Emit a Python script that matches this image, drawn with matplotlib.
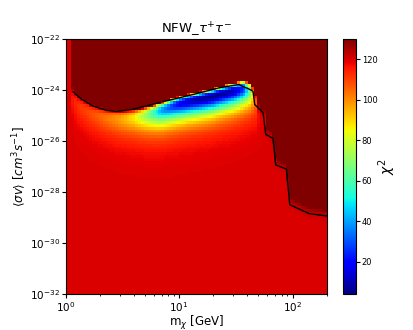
import numpy as np
import matplotlib
matplotlib.use("Agg")
import matplotlib.pyplot as plt

# best-fit cross section and minimum chi2 per mass
mass_knots = [1.0, 1.1, 1.15, 1.3, 1.7, 2.3, 3.0, 4.0, 5.0, 7.0, 10.0, 15.0, 20.0,
              30.0, 37.0, 42.0, 46.0, 50.0, 56.0, 59.0, 66.0, 72.0, 87.0, 96.0,
              112.0, 141.0, 200.0]
best_logsv = [-24.3, -24.3, -24.35, -24.65, -24.95, -25.1, -25.15, -25.1, -25.0,
              -24.8, -24.55, -24.37, -24.25, -24.05, -23.95, -24.05, -24.3, -25.05,
              -25.5, -26.35, -26.5, -27.55, -27.7, -29.1, -29.25, -29.45, -29.55]
chi2_best = [120, 120, 116, 112, 108, 103, 97, 88, 72, 40, 18, 7, 5, 10, 25, 60,
             100, 117, 119.7, 119.7, 119.7, 119.7, 119.7, 119.7, 119.7, 119.7, 119.7]
chi2_bkg = 120.0

# limit curve
line_m = [1.16, 1.37, 1.74, 2.29, 2.8, 3.9, 6.74, 13.2, 22.8, 33.7, 42.0, 44.8,
          46.4, 55.0, 58.0, 67.3, 71.1, 88.3, 94.5, 112.0, 141.0, 200.0]
line_logsv = [-24.07, -24.35, -24.63, -24.8, -24.84, -24.76, -24.49, -24.18, -23.91,
              -23.79, -23.98, -24.05, -24.57, -24.89, -25.74, -25.9, -26.94, -27.1,
              -28.5, -28.65, -28.85, -28.94]

m_edges = np.logspace(0, np.log10(200), 91)
sv_edges = np.logspace(-32, -22, 91)
lm = 0.5 * (np.log10(m_edges[1:]) + np.log10(m_edges[:-1]))
ls = 0.5 * (np.log10(sv_edges[1:]) + np.log10(sv_edges[:-1]))

sb = np.interp(lm, np.log10(mass_knots), best_logsv)
D = chi2_bkg - np.interp(lm, np.log10(mass_knots), chi2_best)
x = 10 ** (ls[:, None] - sb[None, :])
chi2 = chi2_bkg - D[None, :] * (2 * x - x ** 2)

fig = plt.figure(figsize=(4.13, 3.30), dpi=100)
ax = fig.add_axes([0.159, 0.109, 0.632, 0.773])
cax = fig.add_axes([0.8305, 0.109, 0.0315, 0.773])

pc = ax.pcolormesh(m_edges, sv_edges, chi2, cmap='jet', vmin=4, vmax=130)
ax.plot(line_m, 10.0 ** np.array(line_logsv), color='k', lw=1)
ax.set_xscale('log')
ax.set_yscale('log')
ax.set_xlim(1, 200)
ax.set_ylim(1e-32, 1e-22)
ax.set_title(r'NFW_$\tau^{+}\tau^{-}$', fontsize=9.5, pad=3)
ax.set_xlabel(r'm$_\chi$ [GeV]', fontsize=8.5, labelpad=0)
ax.set_ylabel(r'$\langle\sigma v\rangle\ [cm^3 s^{-1}]$', fontsize=8.5, labelpad=1)
ax.tick_params(labelsize=7.5, length=2.6, pad=1.5)
ax.tick_params(which='minor', length=1.5)

cb = fig.colorbar(pc, cax=cax, ticks=[20, 40, 60, 80, 100, 120])
cb.ax.tick_params(labelsize=6, length=2.6, pad=1.5)
cb.set_label(r'$\chi^2$', fontsize=10, labelpad=-1)

fig.savefig('out.png', dpi=100)
